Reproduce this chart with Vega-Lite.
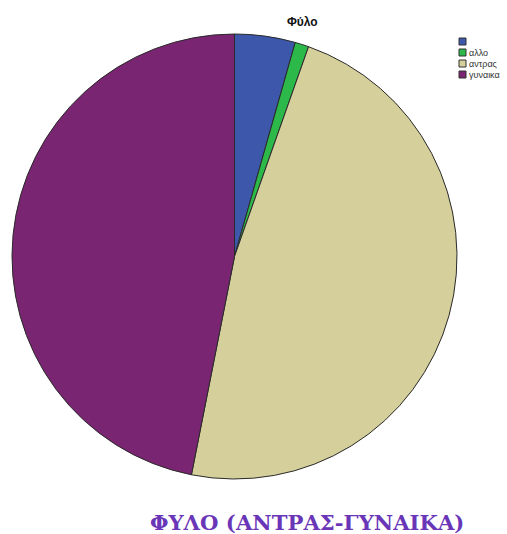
{
  "$schema": "https://vega.github.io/schema/vega-lite/v6.json",
  "padding": {"left": 10, "top": 16, "right": 0, "bottom": 0},
  "background": "white",
  "title": {"text": "ΦΥΛΟ (ΑΝΤΡΑΣ-ΓΥΝΑΙΚΑ)", "orient": "bottom", "anchor": "start", "dx": 140, "offset": 32, "font": "DejaVu Serif", "fontSize": 21.2, "fontWeight": "bold", "color": "#6a36b8"},
  "config": {"view": {"stroke": null}, "concat": {"spacing": 0}},
  "vconcat": [
    {
      "width": 445,
      "height": 445,
      "title": {"text": "Φύλο", "anchor": "start", "dx": 277, "offset": 3, "font": "Liberation Sans", "fontSize": 12, "fontWeight": "bold", "color": "#111"},
      "data": {"values": [
        {"Φύλο": " ", "percent": 4.4, "ord": 1},
        {"Φύλο": "αλλο", "percent": 1.0, "ord": 2},
        {"Φύλο": "αντρας", "percent": 47.7, "ord": 3},
        {"Φύλο": "γυναικα", "percent": 46.9, "ord": 4}
      ]},
      "mark": {"type": "arc", "stroke": "#2a2a2a", "strokeWidth": 1},
      "encoding": {
        "theta": {"field": "percent", "type": "quantitative", "stack": true},
        "order": {"field": "ord", "type": "quantitative"},
        "color": {
          "field": "Φύλο",
          "type": "nominal",
          "scale": {"domain": [" ", "αλλο", "αντρας", "γυναικα"], "range": ["#3d57ab", "#2db84a", "#d5cf9b", "#7a2571"]},
          "legend": {"title": null, "orient": "none", "legendX": 446, "legendY": 3, "symbolType": "square", "symbolSize": 49, "symbolStrokeColor": "#333", "symbolStrokeWidth": 1, "labelFontSize": 9, "labelFont": "Liberation Sans", "labelColor": "#333", "rowPadding": 0, "labelOffset": 2}
        }
      }
    }
  ]
}
